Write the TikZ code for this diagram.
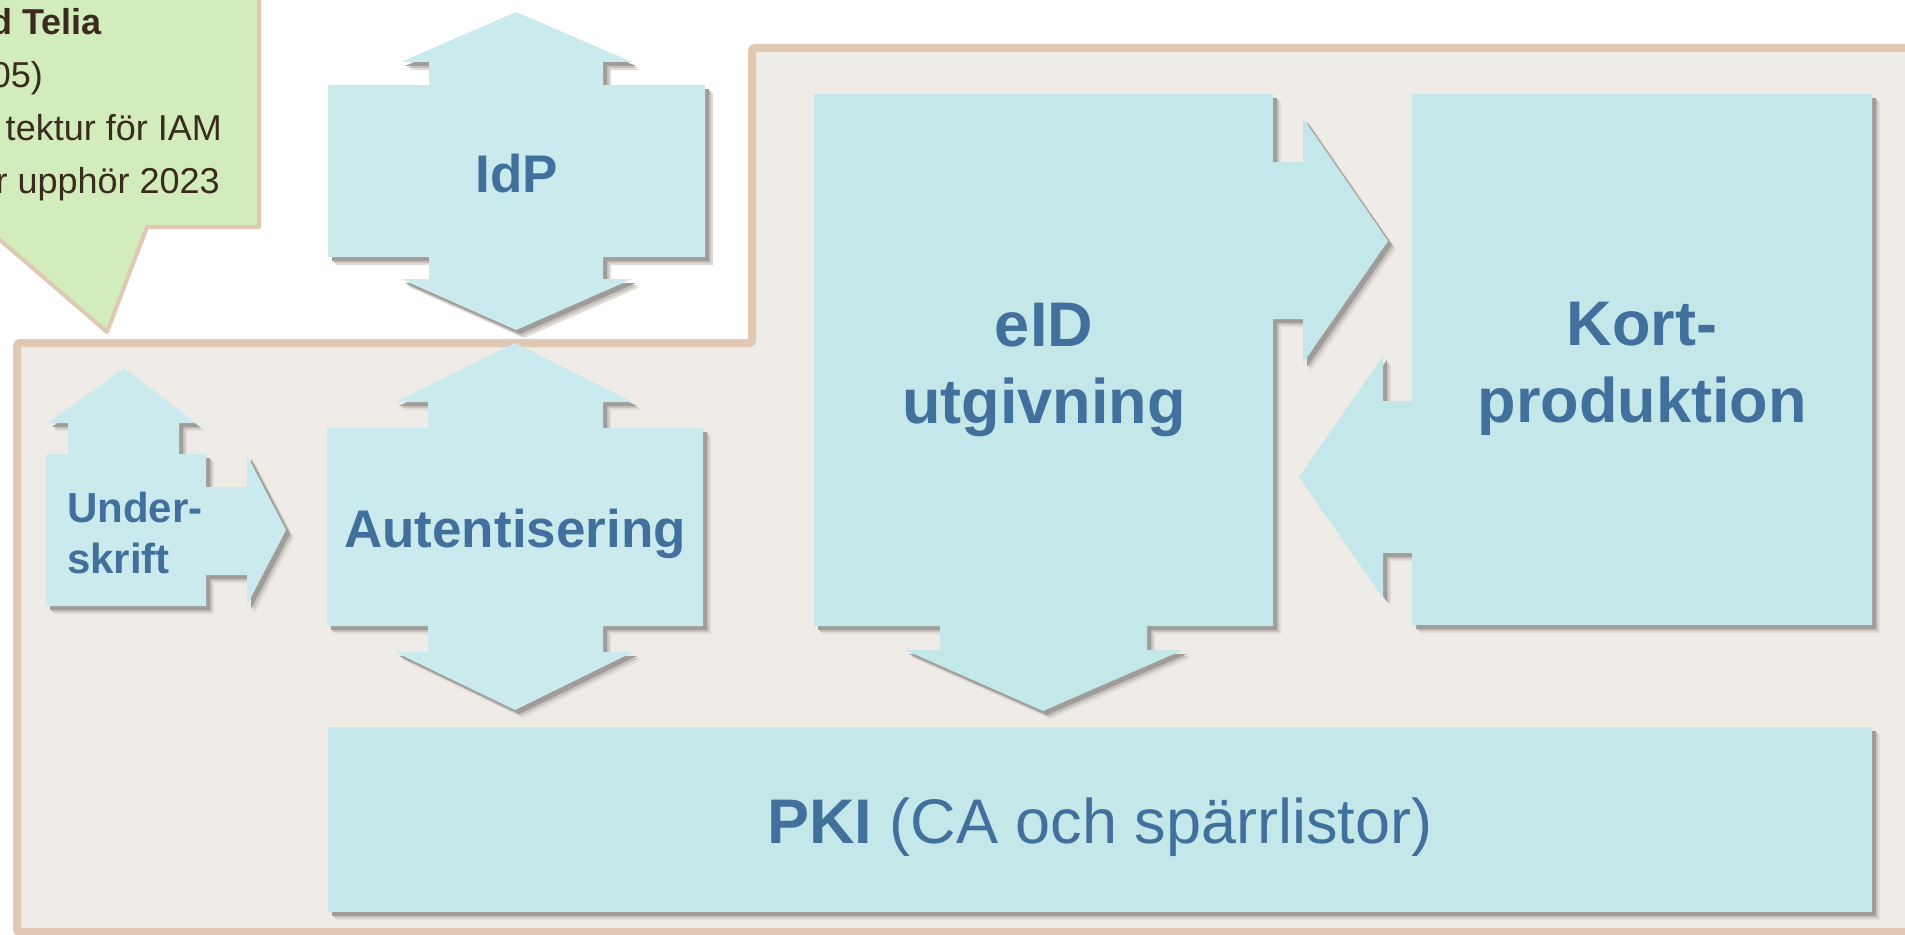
\documentclass[tikz,border=0pt]{standalone}
\usepackage{fontspec}
\setmainfont{Liberation Sans}
\definecolor{frameF}{HTML}{EFEBE6}
\definecolor{frameB}{HTML}{DFC8B4}
\definecolor{calloutF}{HTML}{D3ECBC}
\definecolor{boxA}{HTML}{CBEAEE}
\definecolor{boxB}{HTML}{C4E7E9}
\definecolor{txtblue}{HTML}{41709C}
\definecolor{txtbrown}{HTML}{3A2B1F}
\definecolor{shdA}{HTML}{E0DCD8}
\definecolor{shdB}{HTML}{C6C2BE}
\definecolor{shdC}{HTML}{A09C99}
\newcommand\shadowedshape[2]{%
  \fill[shdA,shift={(8,8)}] #2;
  \fill[shdB,shift={(6,6)}] #2;
  \fill[shdC,shift={(4,4)}] #2;
  \fill[#1] #2;
}
\begin{document}
\begin{tikzpicture}[x=1pt,y=-1pt,
  lblbig/.style={text=txtblue,font=\fontsize{63}{77}\selectfont\bfseries,inner sep=0pt,anchor=base},
  lblmid/.style={text=txtblue,font=\fontsize{53}{64}\selectfont\bfseries,inner sep=0pt,anchor=base},
  lblsmall/.style={text=txtblue,font=\fontsize{42}{51}\selectfont\bfseries,inner sep=0pt,anchor=base west},
  lblpki/.style={text=txtblue,font=\fontsize{63}{77}\selectfont,inner sep=0pt,anchor=base},
  calltext/.style={text=txtbrown,font=\fontsize{36}{43}\selectfont,inner sep=0pt,anchor=base east}]
\useasboundingbox (0,0) rectangle (1905,934);
\clip (0,0) rectangle (1905,934);
\fill[white] (0,0) rectangle (1905,934);
% callout
\filldraw[fill=calloutF,draw=frameB,line width=4,line join=round]
  (259,-30) -- (259,227) -- (147,227) -- (107,332) -- (-15,227) -- (-40,227) -- (-40,-30) -- cycle;
\node[calltext] (c1) at (102,35) {\bfseries d Telia};
\node[calltext] (c2) at (43,87) {05)};
\node[calltext] (c3) at (222,140) {tektur för IAM};
\node[calltext] (c4) at (220,193) {r upphör 2023};
% frame
\filldraw[fill=frameF,draw=frameB,line width=8,rounded corners=3]
  (17,343) -- (752,343) -- (752,48) -- (1920,48) -- (1920,932) -- (17,932) -- cycle;
% IdP
\shadowedshape{boxA}{(328,85) -- (429,85) -- (429,62) -- (401,62) -- (516,12) -- (632,62) -- (603,62) -- (603,85) -- (705,85) -- (705,257) -- (603,257) -- (603,279) -- (632,279) -- (516,330) -- (401,279) -- (429,279) -- (429,257) -- (328,257) -- cycle}
\node[lblmid] (idp) at (517,192) {IdP};
% Autentisering
\shadowedshape{boxA}{(327,428) -- (428,428) -- (428,402) -- (395,402) -- (515,343) -- (633,402) -- (603,402) -- (603,428) -- (703,428) -- (703,626) -- (603,626) -- (603,652) -- (633,652) -- (515,710) -- (395,652) -- (428,652) -- (428,626) -- (327,626) -- cycle}
\node[lblmid] (aut) at (515,547) {Autentisering};
% Underskrift
\shadowedshape{boxA}{(46,454) -- (68,454) -- (68,423) -- (48,423) -- (124,368) -- (196,423) -- (179,423) -- (179,454) -- (206,454) -- (206,487) -- (247,487) -- (247,455) -- (286,530) -- (247,605) -- (247,575) -- (206,575) -- (206,606) -- (46,606) -- cycle}
\node[lblsmall] (und1) at (67,522) {Under-};
\node[lblsmall] (und2) at (67,573) {skrift};
% eID utgivning
\shadowedshape{boxB}{(814,94) -- (1273,94) -- (1273,162) -- (1303,162) -- (1303,118) -- (1388,241) -- (1303,363) -- (1303,319) -- (1273,319) -- (1273,626) -- (1147,626) -- (1147,650) -- (1183,650) -- (1043,711) -- (905,650) -- (940,650) -- (940,626) -- (814,626) -- cycle}
\node[lblbig] (eid1) at (1044,346) {eID};
\node[lblbig] (eid2) at (1044,423) {utgivning};
% Kortproduktion
\shadowedshape{boxB}{(1412,94) -- (1872,94) -- (1872,625) -- (1412,625) -- (1412,553) -- (1383,553) -- (1383,598) -- (1299,477) -- (1383,356) -- (1383,401) -- (1412,401) -- cycle}
\node[lblbig] (kort1) at (1642,345) {Kort-};
\node[lblbig] (kort2) at (1642,422) {produktion};
% PKI
\shadowedshape{boxB}{(328,727) rectangle (1872,912)}
\node[lblpki] (pki) at (1100,843) {\textbf{PKI} (CA och spärrlistor)};
\end{tikzpicture}
\end{document}
